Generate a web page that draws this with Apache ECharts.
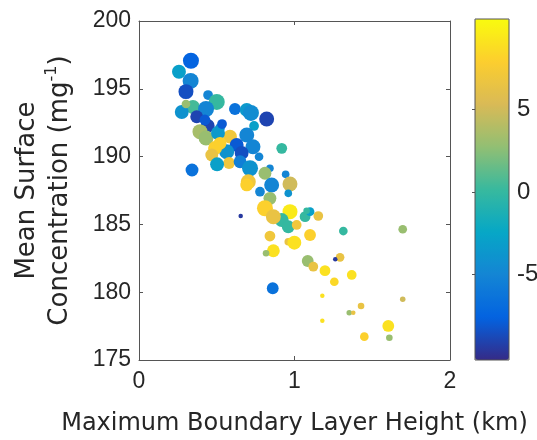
<!DOCTYPE html>
<html>
<head>
<meta charset="utf-8">
<script src="https://cdn.jsdelivr.net/npm/echarts@6/dist/echarts.min.js"></script>
<style>
  html, body { margin: 0; padding: 0; background: #fff; }
  #myChart { width: 537px; height: 440px; }
</style>
</head>
<body>
<div id="myChart"></div>
<script>
// boundary layer height (km)
var blh = [0.334, 0.257, 0.332, 0.302, 0.444, 0.500, 0.347, 0.275, 0.431, 0.371,
  0.617, 0.693, 0.720, 0.821, 0.740, 0.442, 0.521, 0.392, 0.431, 0.585,
  0.508, 0.693, 0.521, 0.628, 0.733, 0.660, 0.564, 0.489, 0.468, 0.918,
  0.772, 0.579, 0.502, 0.341, 0.650, 0.714, 0.842, 0.810, 0.943, 0.971,
  0.853, 0.703, 0.778, 0.842, 0.960, 0.693, 0.810, 0.971, 0.918, 0.960,
  0.864, 0.654, 1.068, 1.153, 1.100, 1.078, 1.014, 1.100, 0.842, 0.960,
  0.999, 0.864, 0.817, 1.314, 1.085, 1.121, 1.196, 1.256, 1.368, 1.293,
  1.262, 0.860, 1.696, 1.179, 1.696, 1.428, 1.352, 1.378, 1.179, 1.603,
  1.449, 1.610, 0.534, 0.521, 0.302, 0.424];
// mean surface concentration
var conc = [197.07, 196.26, 195.58, 194.79, 194.54, 194.03, 193.66, 193.29, 193.51, 192.94,
  193.51, 193.44, 193.22, 192.77, 192.26, 192.26, 192.11, 191.84, 191.37, 191.47,
  191.74, 191.59, 190.73, 190.86, 190.73, 190.27, 190.36, 190.63, 190.12, 190.61,
  189.99, 189.53, 189.43, 189.01, 189.62, 189.14, 189.14, 188.77, 188.69, 187.98,
  187.91, 188.15, 187.41, 186.92, 187.29, 187.91, 186.19, 185.94, 185.32, 184.83,
  185.57, 185.62, 185.57, 185.62, 185.94, 186.01, 184.96, 184.22, 184.14, 183.72,
  183.65, 183.06, 182.87, 184.51, 182.30, 181.88, 181.59, 180.77, 181.27, 182.57,
  182.43, 180.29, 184.64, 179.74, 179.48, 178.98, 178.49, 178.49, 177.90, 177.51,
  176.72, 176.64, 192.40, 190.98, 193.88, 192.70];
// colour variable
var colorVal = [-7.5, -3, -5, -8.5, -5, 0, 0.5, -4, -5, -9,
  -6.5, -3.5, -4.5, -9, -3, -9, -5, 3.5, 3, 7,
  -3.5, -5, -4, -8, -5, -8.5, -4, 8, 6.5, 0,
  -5, 7, -3, -6.5, -5.5, -4, -5, 3, -5, 5,
  -5, 7, -5, 3, -4, 8, 8, 9.5, 0, 0,
  6.5, -9.5, 0, 6.5, -3, 0, 7, 8, 7, 6.5,
  9, 9, 3, 0, 3, 6.5, 9, 8.5, 9, 6.5,
  -9.5, -6.5, 3, 9, 5, 6.5, 3, 6.5, 9, 9,
  8, 3, -8, 8, 3, -8];
// size variable
var sizeVal = [15, 13, 15, 14, 9, 15, 13, 13, 15, 12,
  11, 13, 15, 14, 9, 13, 9, 14, 14, 13,
  13, 14, 12, 13, 14, 13, 14, 13, 12, 10,
  8, 11, 13, 12, 12, 15, 7, 12, 7, 14,
  14, 14, 9, 12, 7, 12, 15, 14, 13, 12,
  14, 4, 10, 9, 8, 6, 9, 11, 10, 7,
  13, 12, 6, 8, 11, 9, 10, 8, 9, 8,
  4, 11, 8, 4, 5, 6, 5, 4, 4, 11,
  8, 6, 9, 12, 8, 10];

var xTicks = [0, 1, 2];
var yTicks = [175, 180, 185, 190, 195, 200];
var cbTicks = [-5, 0, 5];

var parula = ['#352a87', '#0363e1', '#1485d4', '#06a7c6', '#38b99e',
  '#92bf73', '#d9ba56', '#fcce2e', '#f9fb0e'];

var points = [];
for (var i = 0; i < blh.length; i++) {
  points.push([blh[i], conc[i], colorVal[i], sizeVal[i]]);
}

var font = "'Liberation Sans', Arial, sans-serif";
var titleFont = "'DejaVu Sans', sans-serif";
var lineCol = '#555';
var txtCol = '#262626';

var chart = echarts.init(document.getElementById('myChart'));
var option = {
  animation: false,
  textStyle: { fontFamily: font },
  grid: [
    { left: 139, top: 21, width: 311, height: 339, outerBoundsMode: 'none' },
    { left: 475, top: 19, width: 34, height: 341, outerBoundsMode: 'none',
      show: true, borderColor: lineCol, borderWidth: 1, backgroundColor: 'transparent', z: 10 }
  ],
  visualMap: [
    {
      type: 'continuous',
      seriesIndex: 0,
      dimension: 2,
      min: -10.2,
      max: 10.5,
      left: 475,
      top: 19,
      itemWidth: 34,
      itemHeight: 341,
      padding: 0,
      calculable: false,
      hoverLink: false,
      text: null,
      showLabel: false,
      inRange: { color: parula }
    },
    {
      type: 'continuous',
      show: false,
      seriesIndex: 0,
      dimension: 3,
      min: 4,
      max: 15,
      inRange: { symbolSize: [4.5, 16] }
    }
  ],
  xAxis: [
    {
      type: 'value', gridIndex: 0, min: 0, max: 2, interval: 1,
      name: 'Maximum Boundary Layer Height (km)',
      nameLocation: 'middle', nameGap: 52,
      nameTextStyle: { fontSize: 24, color: txtCol, fontFamily: titleFont },
      axisLine: { show: true, onZero: false, lineStyle: { color: lineCol, width: 1 } },
      axisTick: { show: true, inside: true, length: 4, lineStyle: { color: lineCol } },
      axisLabel: { fontSize: 23, color: txtCol, margin: 10, fontFamily: font,
        formatter: function (v) { return xTicks.indexOf(v) >= 0 ? String(v) : ''; } },
      splitLine: { show: false }
    },
    {
      type: 'value', gridIndex: 0, min: 0, max: 2, interval: 1, position: 'top',
      axisLine: { show: true, onZero: false, lineStyle: { color: lineCol, width: 1 } },
      axisTick: { show: true, inside: true, length: 4, lineStyle: { color: lineCol } },
      axisLabel: { show: false },
      splitLine: { show: false }
    },
    {
      type: 'value', gridIndex: 1, min: 0, max: 1, show: false
    }
  ],
  yAxis: [
    {
      type: 'value', gridIndex: 0, min: 175, max: 200, interval: 5,
      name: '{a|Mean Surface}\n{a|Concentration (mg}{s|-1}{a|)}',
      nameLocation: 'middle', nameRotate: 90, nameGap: 62,
      nameTextStyle: {
        color: txtCol, fontFamily: titleFont, lineHeight: 33,
        rich: {
          a: { fontSize: 26, color: txtCol, fontFamily: titleFont, lineHeight: 33 },
          s: { fontSize: 16, color: txtCol, fontFamily: titleFont, verticalAlign: 'top', lineHeight: 24 }
        }
      },
      axisLine: { show: true, onZero: false, lineStyle: { color: lineCol, width: 1 } },
      axisTick: { show: true, inside: true, length: 4, lineStyle: { color: lineCol } },
      axisLabel: { fontSize: 23, color: txtCol, margin: 8, fontFamily: font,
        formatter: function (v) { return yTicks.indexOf(v) >= 0 ? String(v) : ''; } },
      splitLine: { show: false }
    },
    {
      type: 'value', gridIndex: 0, min: 175, max: 200, interval: 5, position: 'right',
      axisLine: { show: true, onZero: false, lineStyle: { color: lineCol, width: 1 } },
      axisTick: { show: true, inside: true, length: 4, lineStyle: { color: lineCol } },
      axisLabel: { show: false },
      splitLine: { show: false }
    },
    {
      type: 'value', gridIndex: 1, min: -10.2, max: 10.5, position: 'right',
      axisLine: { show: false },
      axisTick: { show: true, inside: true, length: 3, customValues: cbTicks,
        lineStyle: { color: lineCol } },
      axisLabel: { fontSize: 24, color: txtCol, margin: 8, fontFamily: font,
        customValues: cbTicks },
      splitLine: { show: false }
    }
  ],
  series: [
    {
      type: 'scatter',
      xAxisIndex: 0,
      yAxisIndex: 0,
      data: points,
      itemStyle: { opacity: 1 },
      emphasis: { disabled: true }
    }
  ]
};
chart.setOption(option);
</script>
</body>
</html>
